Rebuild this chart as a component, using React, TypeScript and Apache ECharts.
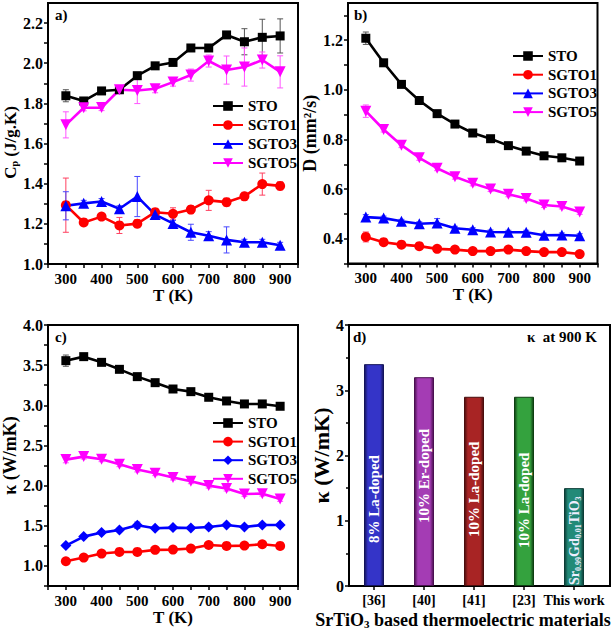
import React, { useEffect, useRef } from 'react';
import * as echarts from 'echarts';

// ---------------- data ----------------
const temps = [300, 350, 400, 450, 500, 550, 600, 650, 700, 750, 800, 850, 900];
const sampleNames = ['STO', 'SGTO1', 'SGTO3', 'SGTO5'];

// a) heat capacity Cp (J/g.K)
const cpSTO = [1.838, 1.812, 1.862, 1.868, 1.938, 1.987, 2.004, 2.076, 2.076, 2.141, 2.107, 2.129, 2.136];
const cpSGTO1 = [1.293, 1.207, 1.236, 1.192, 1.201, 1.258, 1.25, 1.271, 1.317, 1.308, 1.337, 1.398, 1.389];
const cpSGTO3 = [1.29, 1.302, 1.311, 1.275, 1.336, 1.246, 1.202, 1.158, 1.141, 1.12, 1.108, 1.108, 1.093];
const cpSGTO5 = [1.693, 1.778, 1.779, 1.868, 1.864, 1.873, 1.906, 1.941, 2.011, 1.966, 1.981, 2.016, 1.957];
const cpSTOErr = [0.03, 0.015, 0.01, 0.01, 0.015, 0.01, 0.01, 0.01, 0.01, 0.01, 0.065, 0.09, 0.085];
const cpSGTO1Err = [0.135, 0.015, 0.015, 0.04, 0.02, 0.015, 0.03, 0.02, 0.05, 0.02, 0.02, 0.055, 0.02];
const cpSGTO3Err = [0.07, 0.015, 0.015, 0.015, 0.1, 0.015, 0.015, 0.04, 0.02, 0.065, 0.015, 0.015, 0.015];
const cpSGTO5Err = [0.065, 0.015, 0.015, 0.02, 0.065, 0.02, 0.02, 0.03, 0.03, 0.07, 0.095, 0.04, 0.08];

// b) thermal diffusivity D (mm^2/s)
const dSTO = [1.208, 1.109, 1.022, 0.957, 0.904, 0.862, 0.826, 0.803, 0.775, 0.753, 0.734, 0.726, 0.713];
const dSGTO1 = [0.407, 0.386, 0.376, 0.37, 0.359, 0.356, 0.35, 0.35, 0.356, 0.35, 0.346, 0.346, 0.338];
const dSGTO3 = [0.487, 0.483, 0.47, 0.46, 0.463, 0.442, 0.436, 0.427, 0.426, 0.426, 0.414, 0.415, 0.412];
const dSGTO5 = [0.914, 0.84, 0.777, 0.726, 0.684, 0.65, 0.623, 0.6, 0.579, 0.562, 0.536, 0.53, 0.508];
const dSTOErr = [0.025, 0.008, 0.006, 0.006, 0.006, 0.006, 0.006, 0.006, 0.006, 0.006, 0.006, 0.006, 0.006];
const dSGTO1Err = [0.02, 0.008, 0.006, 0.006, 0.006, 0.006, 0.006, 0.006, 0.006, 0.006, 0.006, 0.006, 0.006];
const dSGTO3Err = [0.01, 0.008, 0.008, 0.008, 0.018, 0.008, 0.008, 0.008, 0.008, 0.008, 0.008, 0.008, 0.008];
const dSGTO5Err = [0.025, 0.01, 0.01, 0.01, 0.01, 0.01, 0.01, 0.01, 0.01, 0.01, 0.01, 0.01, 0.01];

// c) thermal conductivity kappa (W/mK)
const kSTO = [3.556, 3.606, 3.535, 3.448, 3.357, 3.282, 3.203, 3.17, 3.1, 3.054, 3.017, 3.017, 2.988];
const kSGTO1 = [1.058, 1.104, 1.154, 1.174, 1.174, 1.2, 1.203, 1.216, 1.261, 1.249, 1.253, 1.27, 1.249];
const kSGTO3 = [1.253, 1.365, 1.415, 1.448, 1.506, 1.469, 1.477, 1.473, 1.485, 1.51, 1.485, 1.51, 1.51];
const kSGTO5 = [2.324, 2.361, 2.328, 2.266, 2.2, 2.154, 2.1, 2.054, 2.0, 1.963, 1.896, 1.9, 1.834];
const kSTOErr = [0.07, 0.02, 0.02, 0.02, 0.02, 0.02, 0.02, 0.02, 0.02, 0.02, 0.02, 0.02, 0.02];
const kSGTO1Err = [0.02, 0.02, 0.02, 0.02, 0.02, 0.02, 0.02, 0.02, 0.02, 0.02, 0.02, 0.02, 0.02];
const kSGTO3Err = [0.02, 0.02, 0.02, 0.02, 0.04, 0.02, 0.02, 0.02, 0.02, 0.02, 0.02, 0.02, 0.02];
const kSGTO5Err = [0.04, 0.03, 0.03, 0.03, 0.03, 0.03, 0.03, 0.03, 0.03, 0.03, 0.03, 0.03, 0.03];

// d) kappa at 900 K comparison
const refLabels = ['[36]', '[40]', '[41]', '[23]', 'This work'];
const kappa900 = [3.4, 3.2, 2.9, 2.9, 1.5];
const barTexts = [
  '{t|8% La-doped}',
  '{t|10% Er-doped}',
  '{t|10% La-doped}',
  '{t|10% La-doped}',
  '{u|Sr}{s|0.99}{u|Gd}{s|0.01}{u|TiO}{s|3}',
];

// ---------------- styles ----------------
const FONT = '"Liberation Serif", "Times New Roman", serif';
const COLORS: Record<string, string> = { STO: '#000000', SGTO1: '#ff0000', SGTO3: '#0000ff', SGTO5: '#ff00ff' };
const ERR_COLORS: Record<string, string> = { STO: '#555555', SGTO1: '#ff4060', SGTO3: '#4848ff', SGTO5: '#ff55ff' };
const BAR_STYLE = [
  ['#14145a', '#3434c8'],
  ['#4a1050', '#a43cb4'],
  ['#4a0e0e', '#a82424'],
  ['#0e3e12', '#34a23e'],
  ['#0c3c36', '#228a78'],
];
const BAR_LABEL_LIFT = [43, 63, 49, 38, 1];

function lineSeries(panel: string, name: string, values: number[], gi: number, symbol: string, rotate = 0) {
  const size = symbol === 'circle' ? 10 : symbol === 'rect' ? 9 : 11;
  return {
    type: 'line',
    name: panel + ':' + name,
    xAxisIndex: gi,
    yAxisIndex: gi,
    data: temps.map((t, i) => [t, values[i]]),
    symbol,
    symbolSize: size,
    symbolRotate: rotate,
    lineStyle: { color: COLORS[name], width: 2.6 },
    itemStyle: { color: COLORS[name] },
    z: 3,
    silent: true,
  };
}

function errSeries(panel: string, name: string, values: number[], errs: number[], gi: number) {
  const color = ERR_COLORS[name];
  return {
    type: 'custom',
    name: panel + ':err:' + name,
    xAxisIndex: gi,
    yAxisIndex: gi,
    z: 2,
    silent: true,
    data: temps.map((t, i) => [t, values[i] - errs[i], values[i] + errs[i]]),
    encode: { x: 0, y: [1, 2] },
    renderItem: (params: any, api: any) => {
      const x = api.value(0);
      const lo = api.coord([x, api.value(1)]);
      const hi = api.coord([x, api.value(2)]);
      const w = 3;
      const st = { stroke: color, lineWidth: 1 };
      return {
        type: 'group',
        children: [
          { type: 'line', shape: { x1: lo[0], y1: lo[1], x2: hi[0], y2: hi[1] }, style: st },
          { type: 'line', shape: { x1: hi[0] - w, y1: hi[1], x2: hi[0] + w, y2: hi[1] }, style: st },
          { type: 'line', shape: { x1: lo[0] - w, y1: lo[1], x2: lo[0] + w, y2: lo[1] }, style: st },
        ],
      };
    },
  };
}

const XLABEL = { color: '#000', fontFamily: FONT, fontWeight: 'bold', fontSize: 15 };
const YLABEL = { color: '#000', fontFamily: FONT, fontWeight: 'bold', fontSize: 16 };
const NAME_STYLE = { color: '#000', fontFamily: FONT, fontWeight: 'bold', fontSize: 17 };

function tempAxis(gi: number) {
  return {
    type: 'value',
    gridIndex: gi,
    min: 250,
    max: 950,
    interval: 50,
    axisLine: { show: true, onZero: false, lineStyle: { color: '#000', width: 2 } },
    axisTick: { show: true, length: 4, lineStyle: { color: '#000', width: 1.5 } },
    axisLabel: { ...XLABEL, margin: 7, formatter: (v: number) => (Math.round(v) % 100 === 0 ? String(Math.round(v)) : '') },
    splitLine: { show: false },
    name: 'T (K)',
    nameLocation: 'middle',
    nameGap: 22,
    nameTextStyle: NAME_STYLE,
  };
}

function valAxis(gi: number, min: number, max: number, interval: number, step: number, name: string, nameGap: number, nameSize: number, rich?: any, pad?: number[]) {
  return {
    type: 'value',
    gridIndex: gi,
    min,
    max,
    interval,
    axisLine: { show: true, onZero: false, lineStyle: { color: '#000', width: 2 } },
    axisTick: { show: true, length: 4, lineStyle: { color: '#000', width: 1.5 } },
    axisLabel: {
      ...YLABEL,
      margin: 5,
      showMaxLabel: max === 4 ? true : false,
      formatter: (v: number) => {
        const k = Math.round((v / step) * 1000) / 1000;
        if (Math.abs(k - Math.round(k)) > 1e-6) return '';
        return step >= 1 ? String(Math.round(v)) : v.toFixed(1);
      },
    },
    splitLine: { show: false },
    name,
    nameLocation: 'middle',
    nameRotate: 90,
    nameGap,
    nameTextStyle: { ...NAME_STYLE, fontSize: nameSize, rich, padding: pad || 0 },
  };
}

const legendText = { color: '#000', fontFamily: FONT, fontWeight: 'bold', fontSize: 15, lineHeight: 16 };
function legend(panel: string, left: number, top: number, gap: number) {
  return {
    data: sampleNames.map((n) => panel + ':' + n),
    orient: 'vertical',
    left,
    top,
    itemWidth: 30,
    itemHeight: 12,
    itemGap: gap,
    selectedMode: false,
    formatter: (n: string) => n.slice(2),
    textStyle: legendText,
  };
}

function gridBox(left: number, top: number, width: number, height: number) {
  return { left, top, width, height, show: true, borderColor: '#000', borderWidth: 2, backgroundColor: 'transparent', outerBoundsMode: 'none' };
}

function buildOption() {
  const subRich = (size: number) => ({
    m: { fontFamily: FONT, fontWeight: 'bold', fontSize: size, color: '#000' },
    s: { fontFamily: FONT, fontWeight: 'bold', fontSize: Math.round(size * 0.6), color: '#000', padding: [Math.round(size * 0.45), 0, 0, 0] },
  });

  const series: any[] = [
    errSeries('a', 'STO', cpSTO, cpSTOErr, 0),
    errSeries('a', 'SGTO1', cpSGTO1, cpSGTO1Err, 0),
    errSeries('a', 'SGTO3', cpSGTO3, cpSGTO3Err, 0),
    errSeries('a', 'SGTO5', cpSGTO5, cpSGTO5Err, 0),
    lineSeries('a', 'STO', cpSTO, 0, 'rect'),
    lineSeries('a', 'SGTO1', cpSGTO1, 0, 'circle'),
    lineSeries('a', 'SGTO3', cpSGTO3, 0, 'triangle'),
    lineSeries('a', 'SGTO5', cpSGTO5, 0, 'triangle', 180),

    errSeries('b', 'STO', dSTO, dSTOErr, 1),
    errSeries('b', 'SGTO1', dSGTO1, dSGTO1Err, 1),
    errSeries('b', 'SGTO3', dSGTO3, dSGTO3Err, 1),
    errSeries('b', 'SGTO5', dSGTO5, dSGTO5Err, 1),
    lineSeries('b', 'STO', dSTO, 1, 'rect'),
    lineSeries('b', 'SGTO1', dSGTO1, 1, 'circle'),
    lineSeries('b', 'SGTO3', dSGTO3, 1, 'triangle'),
    lineSeries('b', 'SGTO5', dSGTO5, 1, 'triangle', 180),

    errSeries('c', 'STO', kSTO, kSTOErr, 2),
    errSeries('c', 'SGTO1', kSGTO1, kSGTO1Err, 2),
    errSeries('c', 'SGTO3', kSGTO3, kSGTO3Err, 2),
    errSeries('c', 'SGTO5', kSGTO5, kSGTO5Err, 2),
    lineSeries('c', 'STO', kSTO, 2, 'rect'),
    lineSeries('c', 'SGTO1', kSGTO1, 2, 'circle'),
    lineSeries('c', 'SGTO3', kSGTO3, 2, 'diamond'),
    lineSeries('c', 'SGTO5', kSGTO5, 2, 'triangle', 180),

    {
      type: 'bar',
      name: 'kappa900',
      xAxisIndex: 4,
      yAxisIndex: 4,
      barWidth: 20,
      silent: true,
      data: kappa900.map((v, i) => ({
        value: v,
        itemStyle: {
          color: new echarts.graphic.LinearGradient(0, 0, 1, 0, [
            { offset: 0, color: BAR_STYLE[i][0] },
            { offset: 0.18, color: BAR_STYLE[i][1] },
            { offset: 0.82, color: BAR_STYLE[i][1] },
            { offset: 1, color: BAR_STYLE[i][0] },
          ]),
          borderColor: BAR_STYLE[i][0],
          borderWidth: 1,
        },
        label: { distance: BAR_LABEL_LIFT[i], formatter: barTexts[i] },
      })),
      label: {
        show: true,
        position: 'insideBottom',
        rotate: 90,
        align: 'left',
        verticalAlign: 'middle',
        color: '#fff',
        rich: {
          t: { fontFamily: FONT, fontWeight: 'bold', fontSize: 15, color: '#fff' },
          u: { fontFamily: FONT, fontWeight: 'bold', fontSize: 14, color: '#eef' },
          s: { fontFamily: FONT, fontWeight: 'bold', fontSize: 8, color: '#eef', padding: [8, 0, 0, 0] },
        },
      },
    },
  ];

  return {
    animation: false,
    backgroundColor: '#ffffff',
    grid: [
      gridBox(48, 3, 250, 261),
      gridBox(348, 3, 249.5, 260.5),
      gridBox(48, 325, 250, 261),
      gridBox(349, 325, 261, 261),
      { left: 349, top: 325, width: 250, height: 261, show: false, outerBoundsMode: 'none' },
    ],
    xAxis: [
      tempAxis(0),
      tempAxis(1),
      tempAxis(2),
      { type: 'value', gridIndex: 3, min: 0, max: 1, show: false },
      {
        type: 'category',
        gridIndex: 4,
        data: refLabels,
        axisLine: { show: false },
        axisTick: { show: true, alignWithLabel: true, length: 4, lineStyle: { color: '#000', width: 1.5 } },
        axisLabel: { ...XLABEL, fontSize: 14, margin: 7, interval: 0 },
        splitLine: { show: false },
      },
    ],
    yAxis: [
      valAxis(0, 1.0, 2.3, 0.1, 0.2, '{m|C}{s|p}{m| (J/g.K)}', 25, 17, subRich(17), [0, 18, 0, 0]),
      valAxis(1, 0.3, 1.35, 0.1, 0.2, 'D (mm²/s)', 28, 18),
      valAxis(2, 0.75, 4.0, 0.25, 0.5, 'κ (W/mK)', 26, 18),
      { ...valAxis(3, 0, 4, 1, 1, 'κ (W/mK)', 16, 22), minorTick: { show: true, splitNumber: 2, length: 3, lineStyle: { color: '#000', width: 1.5 } } },
      { type: 'value', gridIndex: 4, min: 0, max: 4, show: false },
    ],
    legend: [legend('a', 207, 93, 3), legend('b', 507, 43, 2.7), legend('c', 207, 410, 2.6)],
    graphic: [
      { type: 'text', x: 55, y: 15, style: { text: 'a)', font: `bold 15px ${FONT}`, fill: '#000', verticalAlign: 'middle', textVerticalAlign: 'middle' } },
      { type: 'text', x: 354, y: 15, style: { text: 'b)', font: `bold 15px ${FONT}`, fill: '#000', verticalAlign: 'middle', textVerticalAlign: 'middle' } },
      { type: 'text', x: 55, y: 337, style: { text: 'c)', font: `bold 15px ${FONT}`, fill: '#000', verticalAlign: 'middle', textVerticalAlign: 'middle' } },
      { type: 'text', x: 353, y: 337, style: { text: 'd)', font: `bold 15px ${FONT}`, fill: '#000', verticalAlign: 'middle', textVerticalAlign: 'middle' } },
      { type: 'text', x: 597, y: 337, style: { text: 'κ  at 900 K', font: `bold 15px ${FONT}`, fill: '#000', align: 'right', textAlign: 'right', verticalAlign: 'middle', textVerticalAlign: 'middle' } },
      {
        type: 'text',
        x: 463,
        y: 620,
        style: {
          text: '{m|SrTiO}{s|3}{m| based thermoelectric materials}',
          rich: subRich(18),
          align: 'center',
          textAlign: 'center',
          verticalAlign: 'middle',
          textVerticalAlign: 'middle',
        },
      },
    ],
    series,
  };
}

export default function App() {
  const ref = useRef<HTMLDivElement>(null);
  useEffect(() => {
    if (!ref.current) return;
    const chart = echarts.init(ref.current, undefined, { renderer: 'svg' });
    chart.setOption(buildOption() as any);
    return () => chart.dispose();
  }, []);
  return (
    <div
      ref={ref}
      style={{ position: 'fixed', left: 0, top: 0, width: 614, height: 637, background: '#fff' }}
    />
  );
}
